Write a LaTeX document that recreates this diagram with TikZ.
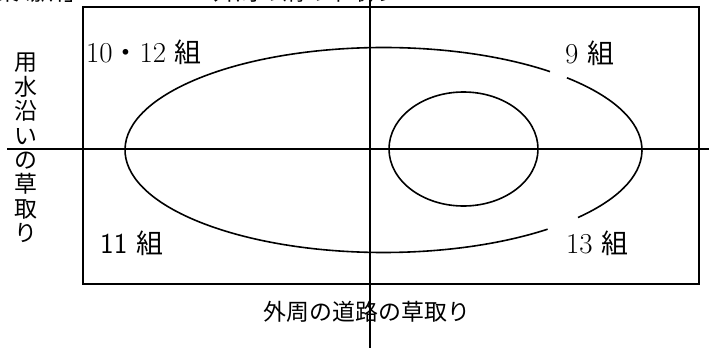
\documentclass[tikz,border=0pt]{standalone}
\usepackage{fontspec}
\newfontfamily\cjk{Noto Sans CJK JP}
\usetikzlibrary{calc}
\begin{document}
\begin{tikzpicture}[x=1bp,y=1bp,
  frame/.style={line width=2bp},
  axis/.style={line width=1.6bp},
  ring/.style={line width=1.6bp},
  lab/.style={inner sep=0pt, font=\fontsize{29}{30}\selectfont},
  kj/.style={inner sep=0pt, font=\cjk\fontsize{23}{24.5}\selectfont}]
\useasboundingbox (0,0) rectangle (709,348);
% clipped text at top edge
\node[kj, anchor=base east] (topl) at (88,347.5) {作業場所」};
\node[kj, anchor=base] (topm) at (305,347.5) {外周の溝の草取り};
% frame
\node[draw, frame, minimum width=616bp, minimum height=277bp, inner sep=0pt] (box) at (391,202.5) {};
% axes
\coordinate (vt) at (370,348);
\coordinate (vb) at (370,0);
\coordinate (hl) at (7,199);
\coordinate (hr) at (709,199);
\draw[axis] (vt) -- (vb);
\draw[axis] (hl) -- (hr);
% big ellipse with two gaps
\coordinate (C) at (383.5,198);
\draw[ring] ($(C)+(49.9:258.5bp and 102.5bp)$) arc[start angle=49.9, end angle=309.4, x radius=258.5bp, y radius=102.5bp];
\draw[ring] ($(C)+(-41.2:258.5bp and 102.5bp)$) arc[start angle=-41.2, end angle=44.8, x radius=258.5bp, y radius=102.5bp];
% small ellipse
\coordinate (S) at (463.5,199);
\draw[ring] (S) ellipse [x radius=74.5bp, y radius=57bp];
% labels
\node[lab, anchor=base west] (g1012) at (86,286) {10{\cjk\fontsize{27}{28}\selectfont ・}12 {\cjk\fontsize{27}{28}\selectfont 組}};
\node[lab, anchor=base west] (g9) at (565,285) {9 {\cjk\fontsize{27}{28}\selectfont 組}};
\node[lab, anchor=base west] (g11) at (100,95) {\sffamily 11 {\cjk\fontsize{27}{28}\selectfont 組}};
\node[lab, anchor=base west] (g13) at (566,95) {13 {\cjk\fontsize{27}{28}\selectfont 組}};
% side texts
\node[kj, align=center] (side) at (26,200) {用\\水\\沿\\い\\の\\草\\取\\り};
\node[kj] (bottom) at (367,36) {外周の道路の草取り};
\end{tikzpicture}
\end{document}
